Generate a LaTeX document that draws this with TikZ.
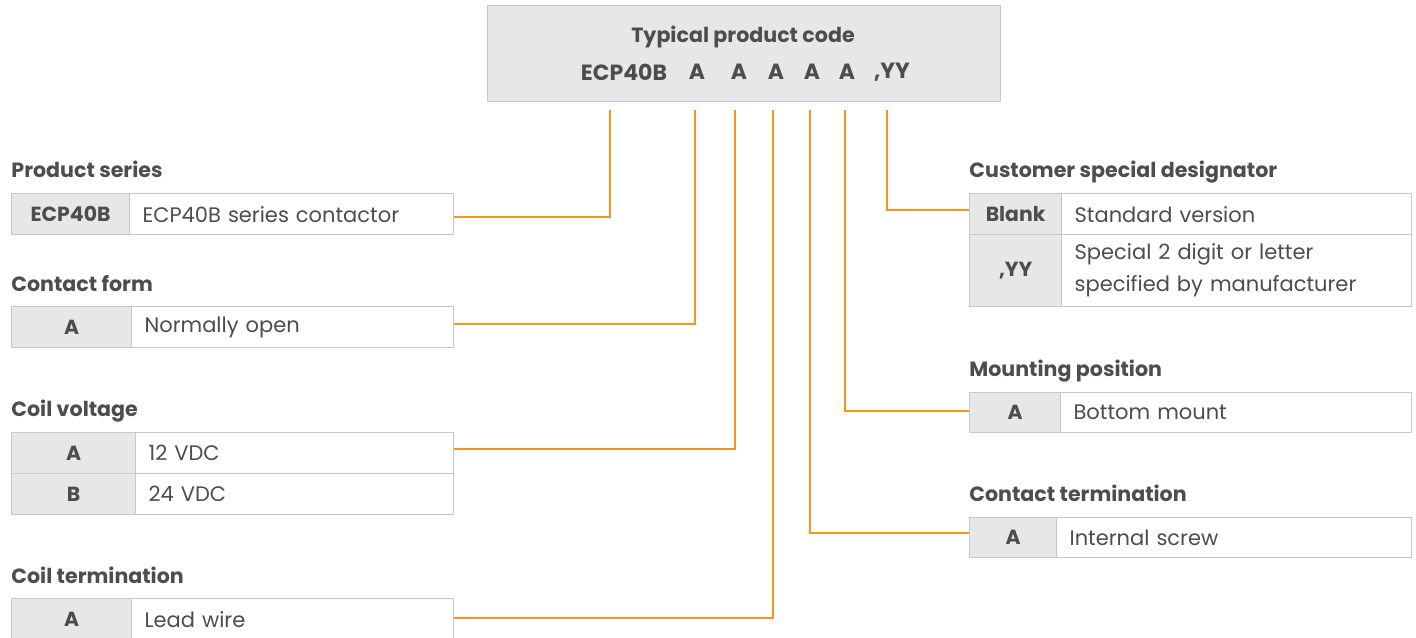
\documentclass[tikz,border=0pt]{standalone}
\usepackage{fontspec}
\setmainfont{Poppins}
\usetikzlibrary{positioning}
\definecolor{txtgray}{HTML}{4D4D4F}
\definecolor{cellgray}{HTML}{E6E7E8}
\definecolor{rulegray}{HTML}{C8C8C8}
\definecolor{codeorange}{HTML}{F7941D}
\begin{document}
\begin{tikzpicture}[x=0.5pt,y=-0.5pt,
  every node/.style={text=txtgray,font=\fontsize{10.5}{12}\selectfont},
  title/.style={anchor=base west,inner sep=0pt,font=\fontsize{10.3}{12}\selectfont\bfseries},
  codepart/.style={font=\fontsize{11}{12}\selectfont\bfseries},
  keycell/.style={draw=rulegray,line width=0.6pt,fill=cellgray,anchor=north west,inner sep=0pt,font=\fontsize{10.2}{12}\selectfont\bfseries},
  valcell/.style={draw=rulegray,line width=0.6pt,fill=white,anchor=north west,inner xsep=6.5pt,inner ysep=0pt,align=left},
  conn/.style={draw=codeorange,line width=1pt}]
\useasboundingbox (0,0) rectangle (1416,637);
\clip (0,0) rectangle (1416,637);

% product code header
\node[draw=rulegray,line width=0.6pt,fill=cellgray,anchor=north west,minimum width=256.5pt,minimum height=48pt] (code) at (487,5) {};
\node[font=\fontsize{10.3}{12}\selectfont\bfseries] (codetitle) at (743,37) {Typical product code};
\node[codepart] (cseries) at (624,72) {ECP40B};
\node[codepart] (cform) at (697,72) {A};
\node[codepart] (cvolt) at (739,72) {A};
\node[codepart] (cterm) at (776,72) {A};
\node[codepart] (cconn) at (812,72) {A};
\node[codepart] (cmount) at (847,72) {A};
\node[codepart] (cspec) at (892,72) {,YY};

\coordinate (l1) at (610,110);
\coordinate (l2) at (695,110);
\coordinate (l3) at (735,110);
\coordinate (l4) at (773,110);
\coordinate (l5) at (810,110);
\coordinate (l6) at (845,110);
\coordinate (l7) at (887,110);

% left column
\node[title] (tseries) at (11,177) {Product series};
\node[keycell,minimum width=59pt,minimum height=20.5pt] (kseries) at (11,193) {ECP40B};
\node[valcell,text width=149pt,minimum height=20.5pt] (vseries) at (129,193) {ECP40B series contactor};

\node[title] (tform) at (11,291) {Contact form};
\node[keycell,minimum width=60pt,minimum height=20.5pt] (kform) at (11,306) {A};
\node[valcell,text width=148pt,minimum height=20.5pt] (vform) at (131,306) {Normally open};

\node[title] (tvolt) at (11,416) {Coil voltage};
\node[keycell,minimum width=62pt,minimum height=20.5pt] (kvolta) at (11,432) {A};
\node[valcell,text width=146pt,minimum height=20.5pt] (vvolta) at (135,432) {12 VDC};
\node[keycell,minimum width=62pt,minimum height=20.5pt] (kvoltb) at (11,473) {B};
\node[valcell,text width=146pt,minimum height=20.5pt] (vvoltb) at (135,473) {24 VDC};

\node[title] (tterm) at (11,583) {Coil termination};
\node[keycell,minimum width=60pt,minimum height=20.5pt] (kterm) at (11,598) {A};
\node[valcell,text width=148pt,minimum height=20.5pt] (vterm) at (131,598) {Lead wire};

% right column
\node[title] (tspec) at (969,177) {Customer special designator};
\node[keycell,minimum width=46pt,minimum height=20.5pt] (kspeca) at (969,193) {Blank};
\node[valcell,text width=162pt,minimum height=20.5pt] (vspeca) at (1061,193) {Standard version};
\node[keycell,minimum width=46pt,minimum height=36pt] (kspecb) at (969,234) {,YY};
\node[valcell,text width=162pt,minimum height=36pt,font=\fontsize{10.5}{16}\selectfont] (vspecb) at (1061,234) {Special 2 digit or letter\\specified by manufacturer};

\node[title] (tmount) at (969,376) {Mounting position};
\node[keycell,minimum width=45.5pt,minimum height=20pt] (kmount) at (969,392) {A};
\node[valcell,text width=162.5pt,minimum height=20pt] (vmount) at (1060,392) {Bottom mount};

\node[title] (tconn) at (969,501) {Contact termination};
\node[keycell,minimum width=43.5pt,minimum height=20pt] (kconn) at (969,517) {A};
\node[valcell,text width=164.5pt,minimum height=20pt] (vconn) at (1056,517) {Internal screw};

% connectors
\draw[conn] (l1) |- ([yshift=-1.6pt]vseries.east);
\draw[conn] (l2) |- ([yshift=1.75pt]vform.east);
\draw[conn] (l3) |- ([yshift=2.25pt]vvolta.east);
\draw[conn] (l4) |- ([yshift=0.75pt]vterm.east);
\draw[conn] (l5) |- ([yshift=2.5pt]kconn.west);
\draw[conn] (l6) |- ([yshift=1pt]kmount.west);
\draw[conn] (l7) |- ([yshift=2.25pt]kspeca.west);
\end{tikzpicture}
\end{document}
